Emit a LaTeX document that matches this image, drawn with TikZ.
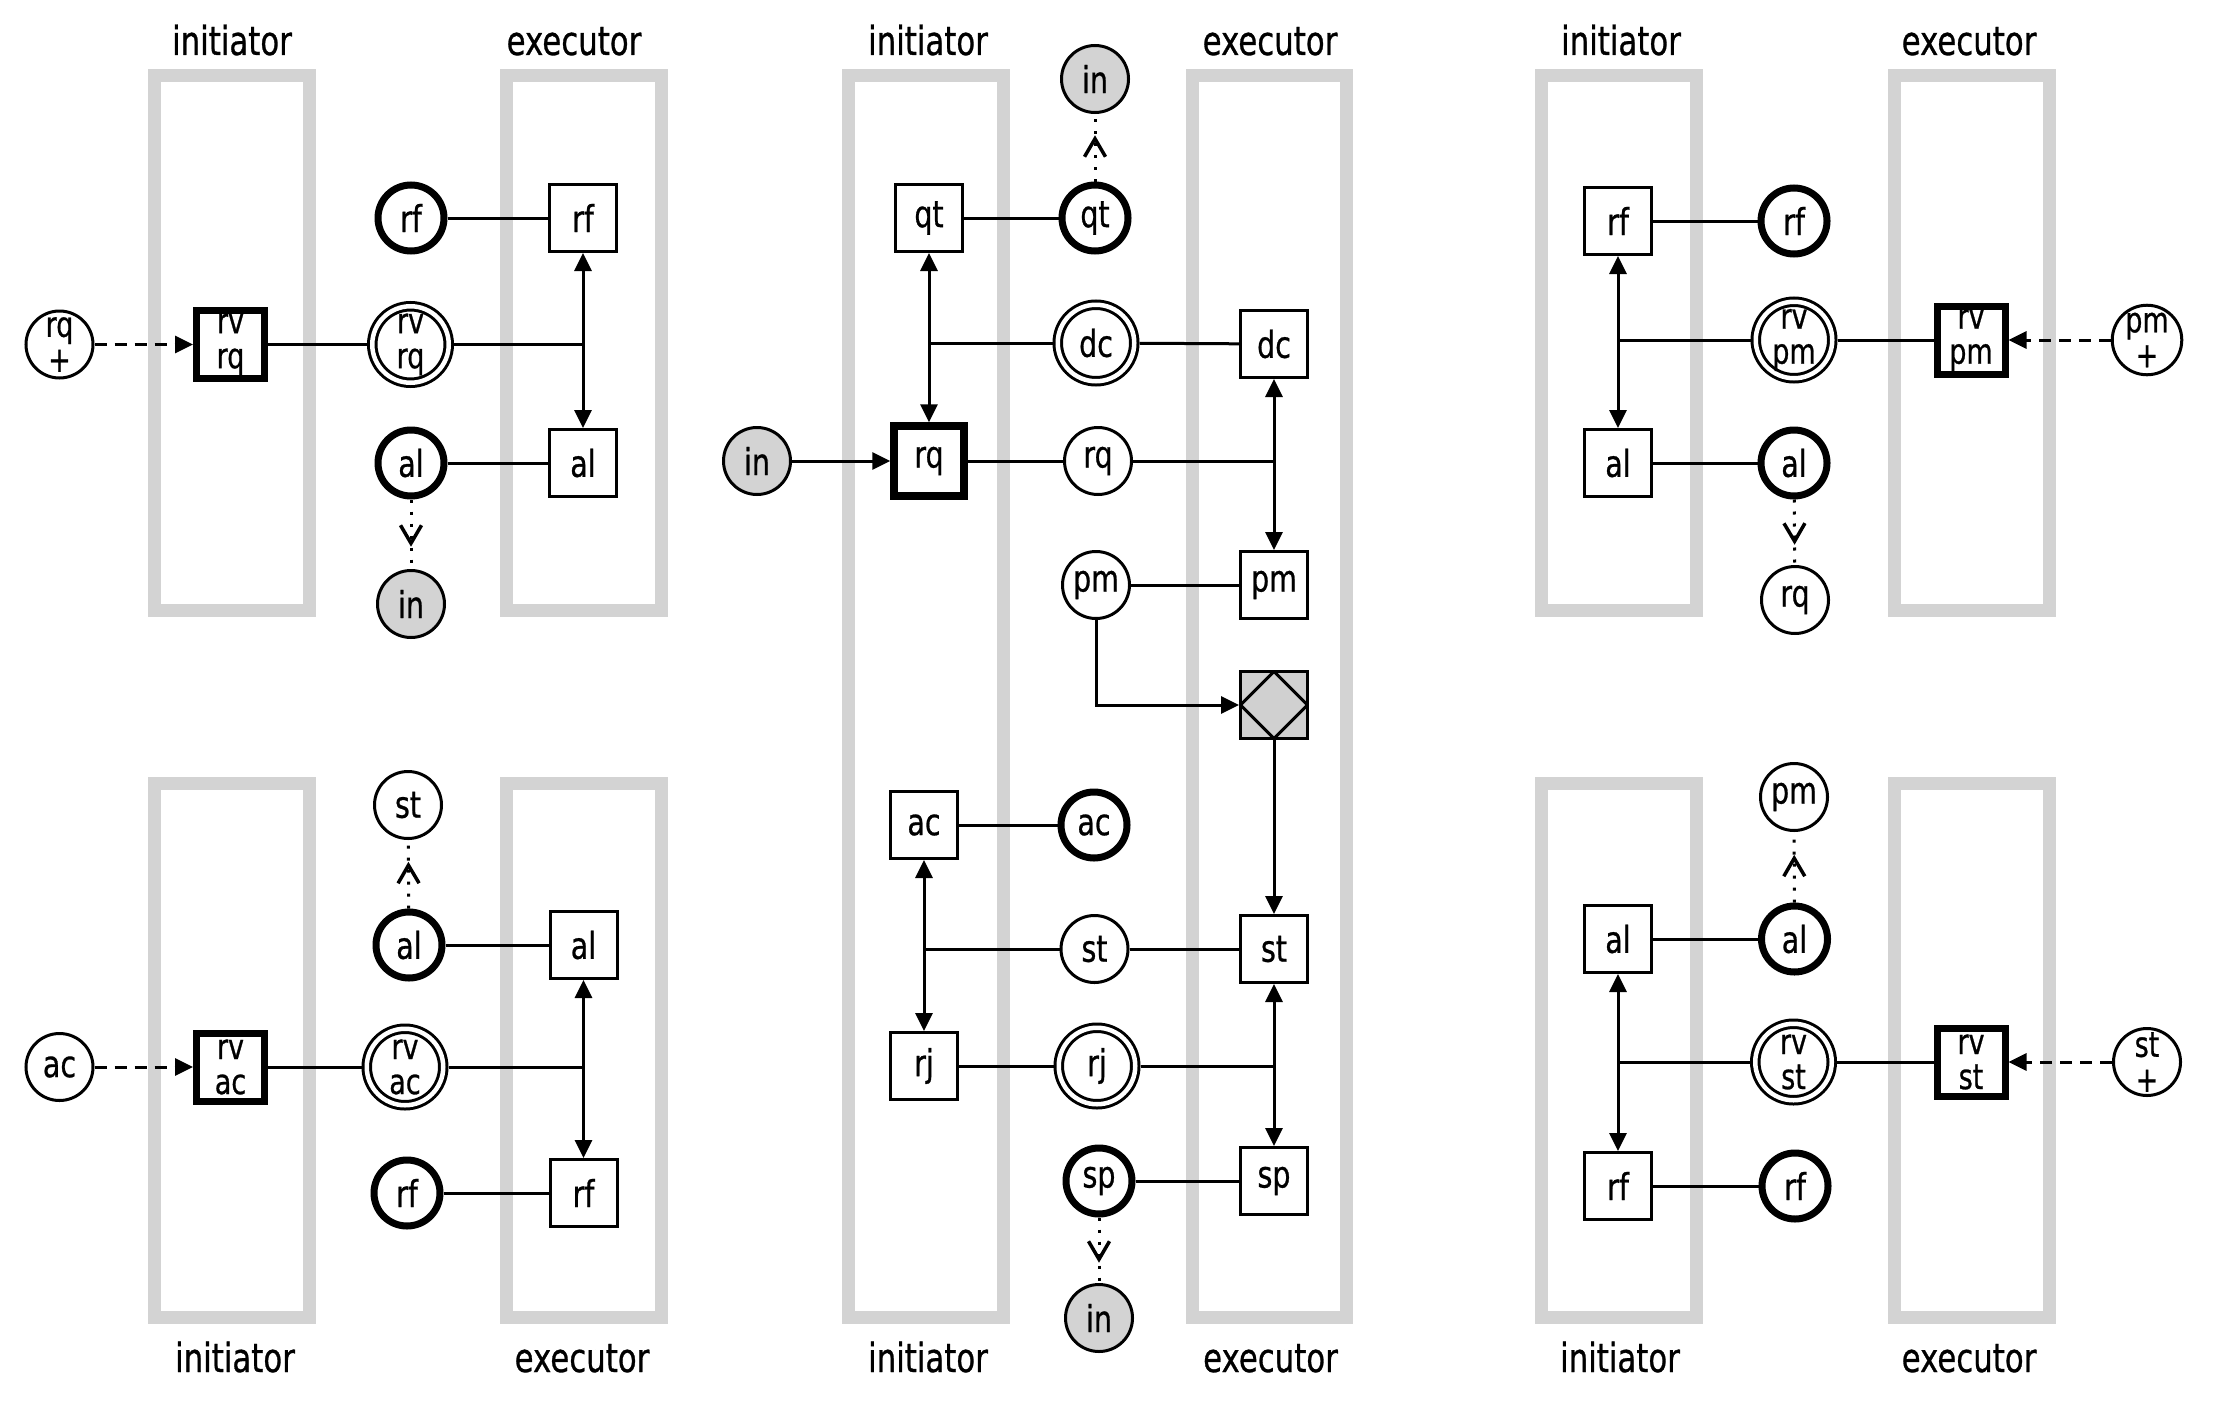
\documentclass[tikz,border=0pt]{standalone}
\usepackage{fontspec}
\setmainfont{DejaVu Sans}[FakeStretch=0.77,FakeBold=0.7]
\usetikzlibrary{arrows.meta,decorations.markings}
\definecolor{lanegray}{RGB}{211,211,211}
\definecolor{fillgray}{RGB}{208,208,208}
\newcommand\myNodeFont{\fontsize{37}{38}\selectfont}
\newcommand\myTwoFont{\fontsize{35}{35}\selectfont}
\newcommand\myLabelFont{\fontsize{40}{44}\selectfont}
\begin{document}
\begin{tikzpicture}[x=1pt,y=-1pt,
  >={Triangle[length=18pt,width=17pt]},
  lane/.style={draw=lanegray,line width=13pt},
  lbl/.style={anchor=base,font=\myLabelFont,inner sep=0pt},
  circ/.style={circle,draw,line width=3pt,minimum size=67pt,inner sep=0pt,font=\myNodeFont},
  tcirc/.style={circle,draw,line width=7pt,minimum size=66pt,inner sep=0pt,font=\myNodeFont},
  gcirc/.style={circ,fill=lanegray},
  dcirc/.style={circle,draw,double,line width=3pt,double distance=4.5pt,minimum size=76.5pt,inner sep=0pt,outer sep=5.25pt,font=\myNodeFont},
  box/.style={rectangle,draw,line width=3pt,minimum size=67pt,inner sep=0pt,font=\myNodeFont},
  tbox/.style={rectangle,draw,line width=7pt,minimum size=68pt,inner sep=0pt,font=\myNodeFont},
  dbox/.style={box,fill=fillgray,path picture={\draw[line width=3pt]
     (path picture bounding box.north) -- (path picture bounding box.east) --
     (path picture bounding box.south) -- (path picture bounding box.west) -- cycle;}},
  twol/.style={align=center,font=\myTwoFont},
  conn/.style={line width=3pt},
  arr/.style={conn,->},
  darr/.style={conn,<->},
  dasharr/.style={conn,->,dash pattern=on 12pt off 8pt},
  dotarr/.style={conn,dash pattern=on 3pt off 9pt,postaction={decorate},
     decoration={markings,mark=at position 0.5 with {\draw[solid,line width=3.5pt,line join=miter] (-9pt,-10.5pt) -- (9pt,0pt) -- (-9pt,10.5pt);}}}
]
\useasboundingbox (0,0) rectangle (2221,1405);

% ---------------- lanes ----------------
\draw[lane] (154,75.5) rectangle (309,610);
\draw[lane] (506.5,75.5) rectangle (661.5,610);
\draw[lane] (154,783) rectangle (309,1317);
\draw[lane] (506.5,783) rectangle (661.5,1317);
\draw[lane] (848.5,75.5) rectangle (1003,1317);
\draw[lane] (1192,75.5) rectangle (1346.5,1317);
\draw[lane] (1541,75.5) rectangle (1696,610);
\draw[lane] (1894,75.5) rectangle (2049,610);
\draw[lane] (1541,783) rectangle (1696,1317);
\draw[lane] (1894,783) rectangle (2049,1317);

% ---------------- labels ----------------
\node[lbl] (l1) at (232,55) {initiator};
\node[lbl] (l2) at (574,55) {executor};
\node[lbl] (l3) at (928,55) {initiator};
\node[lbl] (l4) at (1270,55) {executor};
\node[lbl] (l5) at (1621,55) {initiator};
\node[lbl] (l6) at (1969,55) {executor};
\node[lbl] (l7) at (235,1372) {initiator};
\node[lbl] (l8) at (582,1372) {executor};
\node[lbl] (l9) at (928,1372) {initiator};
\node[lbl] (l10) at (1270.5,1372) {executor};
\node[lbl] (l11) at (1620,1372) {initiator};
\node[lbl] (l12) at (1969,1372) {executor};

% ---------------- top left ----------------
\node[circ,twol] (tlRqp) at (59.5,344.5) {rq\\+};
\node[tbox,twol] (tlRvB) at (230.5,344.5) {rv\\rq};
\node[dcirc,twol] (tlRvC) at (410.5,344.5) {rv\\rq};
\node[tcirc] (tlRfC) at (411,218) {rf};
\node[box] (tlRfB) at (583,218) {rf};
\node[tcirc] (tlAlC) at (411,463) {al};
\node[box] (tlAlB) at (583,463) {al};
\node[gcirc] (tlIn) at (411,604) {in};
\draw[dasharr] (tlRqp) -- (tlRvB);
\draw[conn] (tlRvB) -- (tlRvC);
\draw[conn] (tlRvC) -- (tlRvC -| tlRfB);
\draw[darr] (tlRfB) -- (tlAlB);
\draw[conn] (tlRfC) -- (tlRfB);
\draw[conn] (tlAlC) -- (tlAlB);
\draw[dotarr] (tlAlC) -- (tlIn);

% ---------------- bottom left ----------------
\node[circ] (blStC) at (408,805) {st};
\node[tcirc] (blAlC) at (409,945) {al};
\node[box] (blAlB) at (583.5,945) {al};
\node[circ] (blAcC) at (59.5,1067) {ac};
\node[tbox,twol] (blRvB) at (230.5,1067) {rv\\ac};
\node[dcirc,twol] (blRvC) at (405,1067) {rv\\ac};
\node[tcirc] (blRfC) at (407,1193) {rf};
\node[box] (blRfB) at (583.5,1193) {rf};
\draw[dotarr] (blAlC) -- (blStC);
\draw[conn] (blAlC) -- (blAlB);
\draw[dasharr] (blAcC) -- (blRvB);
\draw[conn] (blRvB) -- (blRvC);
\draw[conn] (blRvC) -- (blRvC -| blAlB);
\draw[darr] (blAlB) -- (blRfB);
\draw[conn] (blRfC) -- (blRfB);

% ---------------- center ----------------
\node[gcirc] (cInT) at (1095,79) {in};
\node[tcirc] (cQtC) at (1095,218) {qt};
\node[box] (cQtB) at (929,218) {qt};
\node[dcirc] (cDcC) at (1096,343) {dc};
\node[box] (cDcB) at (1274,344) {dc};
\node[gcirc] (cInL) at (757,461) {in};
\node[rectangle,draw,line width=7.5pt,minimum size=70pt,inner sep=0pt,font=\myNodeFont] (cRqB) at (929,461) {rq};
\node[circ] (cRqC) at (1098,461) {rq};
\node[circ] (cPmC) at (1096,585) {pm};
\node[box] (cPmB) at (1274,585) {pm};
\node[dbox] (cDia) at (1274,705) {};
\node[box] (cAcB) at (924,825) {ac};
\node[tcirc] (cAcC) at (1094,825) {ac};
\node[circ] (cStC) at (1094.5,949) {st};
\node[box] (cStB) at (1274,949) {st};
\node[box] (cRjB) at (924,1066) {rj};
\node[dcirc] (cRjC) at (1097,1066) {rj};
\node[tcirc] (cSpC) at (1099,1181) {sp};
\node[box] (cSpB) at (1274,1181) {sp};
\node[gcirc] (cInB) at (1099,1318) {in};
\draw[conn] (cQtB) -- (cQtC);
\draw[dotarr] (cQtC) -- (cInT);
\draw[darr] (cQtB) -- (cRqB);
\draw[conn] (cDcC) -- (cDcC -| cQtB);
\draw[conn] (cDcC) -- (cDcB);
\draw[arr] (cInL) -- (cRqB);
\draw[conn] (cRqB) -- (cRqC);
\draw[conn] (cRqC) -- (cRqC -| cDcB);
\draw[darr] (cDcB) -- (cPmB);
\draw[conn] (cPmC) -- (cPmB);
\draw[arr] (cPmC) |- (cDia);
\draw[arr] (cDia) -- (cStB);
\draw[conn] (cAcB) -- (cAcC);
\draw[darr] (cAcB) -- (cRjB);
\draw[conn] (cStC) -- (cStC -| cAcB);
\draw[conn] (cStC) -- (cStB);
\draw[conn] (cRjB) -- (cRjC);
\draw[conn] (cRjC) -- (cRjC -| cStB);
\draw[darr] (cStB) -- (cSpB);
\draw[conn] (cSpC) -- (cSpB);
\draw[dotarr] (cSpC) -- (cInB);

% ---------------- top right ----------------
\node[box] (trRfB) at (1618,221) {rf};
\node[tcirc] (trRfC) at (1794,221) {rf};
\node[dcirc,twol] (trRvC) at (1794,340) {rv\\pm};
\node[tbox,twol] (trRvB) at (1971,340) {rv\\pm};
\node[circ,twol] (trPmp) at (2147,340) {pm\\+};
\node[box] (trAlB) at (1618,463) {al};
\node[tcirc] (trAlC) at (1794,463) {al};
\node[circ] (trRqC) at (1795,600) {rq};
\draw[conn] (trRfB) -- (trRfC);
\draw[conn] (trAlB) -- (trAlC);
\draw[darr] (trRfB) -- (trAlB);
\draw[conn] (trRvC) -- (trRvC -| trRfB);
\draw[conn] (trRvC) -- (trRvB);
\draw[dasharr] (trPmp) -- (trRvB);
\draw[dotarr] (trAlC) -- (trRqC);

% ---------------- bottom right ----------------
\node[circ] (brPmC) at (1794,797) {pm};
\node[tcirc] (brAlC) at (1794.5,939) {al};
\node[box] (brAlB) at (1618,939) {al};
\node[dcirc,twol] (brRvC) at (1793.5,1062) {rv\\st};
\node[tbox,twol] (brRvB) at (1971,1062) {rv\\st};
\node[circ,twol] (brStp) at (2147,1062) {st\\+};
\node[box] (brRfB) at (1618,1186) {rf};
\node[tcirc] (brRfC) at (1795,1186) {rf};
\draw[dotarr] (brAlC) -- (brPmC);
\draw[conn] (brAlB) -- (brAlC);
\draw[darr] (brAlB) -- (brRfB);
\draw[conn] (brRvC) -- (brRvC -| brAlB);
\draw[conn] (brRvC) -- (brRvB);
\draw[dasharr] (brStp) -- (brRvB);
\draw[conn] (brRfB) -- (brRfC);
\end{tikzpicture}
\end{document}
